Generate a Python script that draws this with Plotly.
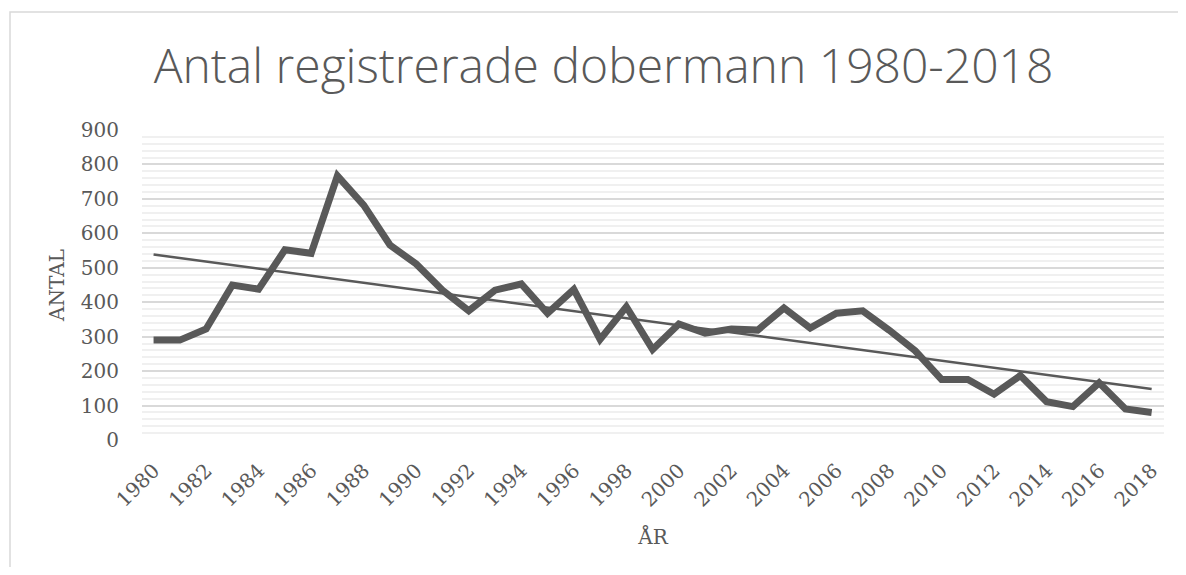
import numpy as np
import plotly.graph_objects as go

years = list(range(1980, 2019))
antal = [290, 290, 322, 450, 438, 552, 542, 767, 682, 566,
         511, 435, 375, 435, 453, 368, 437, 292, 387, 263,
         337, 310, 322, 319, 383, 325, 368, 375, 319, 259,
         176, 176, 133, 187, 111, 97, 166, 90, 80]
x_ticks = list(range(1980, 2019, 2))
y_ticks = list(range(0, 901, 100))

title_text = "Antal registrerade dobermann 1980-2018"
x_title = "ÅR"
y_title = "ANTAL"

# linear trend (least squares)
coef = np.polyfit(years, antal, 1)
trend = list(np.polyval(coef, years))

GRAY = "#595959"
OFF = 8  # page body margin
WIN_W, WIN_H = 1186, 575
W, H = WIN_W - 2 * OFF, WIN_H - 2 * OFF
# plot area in window pixels: x 142..1164, y 130..440
L, T = 142 - OFF, 130 - OFF
R = (OFF + W) - 1164
B = (OFF + H) - 440
pw, ph = W - L - R, H - T - B

fig = go.Figure()
fig.add_trace(go.Scatter(x=years, y=antal, mode="lines",
                         line=dict(color=GRAY, width=7), showlegend=False))
fig.add_trace(go.Scatter(x=years, y=trend, mode="lines",
                         line=dict(color=GRAY, width=2.5), showlegend=False))

def wx(px):
    return (px - OFF - L) / pw

def wy(py):
    return (OFF + T + ph - py) / ph

fig.add_shape(type="rect", xref="paper", yref="paper",
              x0=wx(10), x1=wx(1200),
              y0=wy(600), y1=wy(12),
              line=dict(color="#d9d9d9", width=1.5), layer="below")

fig.update_layout(
    width=W, height=H,
    margin=dict(l=L, r=R, t=T, b=B),
    paper_bgcolor="white", plot_bgcolor="white",
    title=dict(text=title_text, x=(603.5 - OFF) / W, xanchor="center",
               xref="container", yref="container", y=1 - (66 - OFF) / H, yanchor="middle",
               font=dict(family="Open Sans", size=48, color=GRAY, weight=300)),
    xaxis=dict(range=[1979.56, 2018.47], tickmode="array", tickvals=x_ticks,
               ticktext=[str(v) for v in x_ticks], tickangle=-45,
               showgrid=False, zeroline=False, showline=False, ticks="",
               ticklabelstandoff=14,
               tickfont=dict(family="DejaVu Serif", size=20, color=GRAY),
               title=dict(text=x_title, standoff=19,
                          font=dict(family="DejaVu Serif", size=20, color=GRAY))),
    yaxis=dict(range=[0, 900], tickmode="array", tickvals=y_ticks,
               showgrid=True, gridcolor="#d9d9d9", gridwidth=1.5,
               zeroline=False, showline=False, ticks="",
               ticklabelstandoff=22,
               minor=dict(dtick=20, showgrid=True, gridcolor="#f0f0f0", gridwidth=1.5),
               tickfont=dict(family="DejaVu Serif", size=20, color=GRAY),
               title=dict(text=y_title, standoff=10,
                          font=dict(family="DejaVu Serif", size=20, color=GRAY))),
)

fig.write_html("out.html")
